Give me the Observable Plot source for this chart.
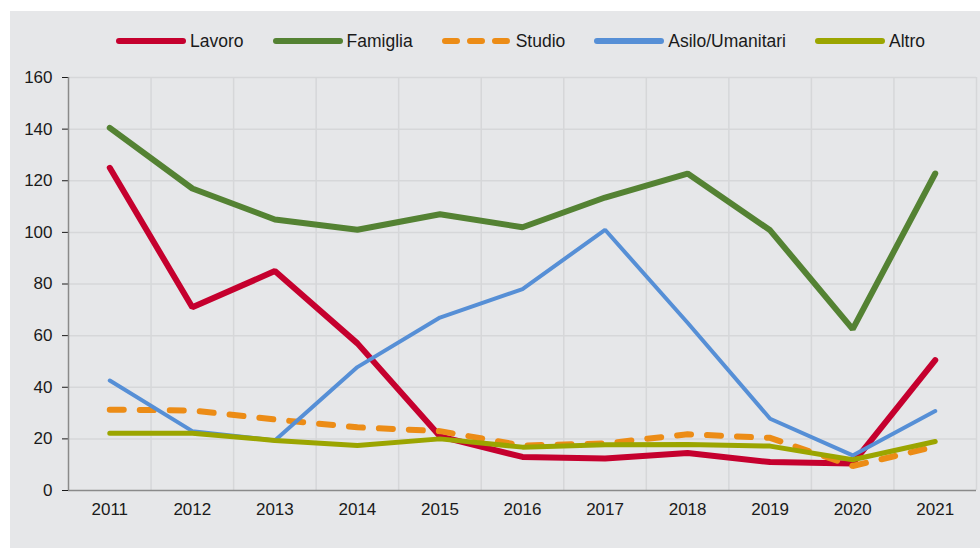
<!DOCTYPE html>
<html>
<head>
<meta charset="utf-8">
<script src="https://cdn.jsdelivr.net/npm/d3@7"></script>
<script src="https://cdn.jsdelivr.net/npm/@observablehq/plot@0.6"></script>
<style>
  html, body { margin: 0; padding: 0; background: #ffffff; }
  body { width: 980px; height: 548px; overflow: hidden; position: relative; font-family: "Liberation Sans", Arial, sans-serif; }
  #panel { position: absolute; left: 10px; top: 11px; width: 970px; height: 537px; background: #e6e7e9; }
  #legend { height: 49px; box-sizing: border-box; padding-top: 11px; padding-left: 105px; display: flex; align-items: center; }
  .item { display: flex; align-items: center; height: 22px; margin-right: 28px; font-size: 17.5px; color: #1a1a1a; }
  .item svg { margin-right: 3px; }
  #chart svg { display: block; }
</style>
</head>
<body>
<div id="panel">
  <div id="legend"></div>
  <div id="chart"></div>
</div>
<script>
const years = [2011, 2012, 2013, 2014, 2015, 2016, 2017, 2018, 2019, 2020, 2021];
const seriesNames = ["Lavoro", "Famiglia", "Studio", "Asilo/Umanitari", "Altro"];
const lavoro   = [125, 71, 85, 57, 21, 13, 12.4, 14.5, 11, 10.5, 50.5];
const famiglia = [140.5, 117, 105, 101, 107, 102, 113.5, 122.8, 100.8, 62.5, 122.8];
const studio   = [31.3, 31, 27.5, 24.5, 23, 17.4, 18.2, 21.8, 20.4, 9.5, 17];
const asilo    = [42.6, 23, 19.4, 47.8, 67, 78, 101, 65, 27.8, 13.6, 30.8];
const altro    = [22.2, 22.2, 19.4, 17.4, 20, 16.8, 17.7, 17.8, 17.2, 11.9, 19];
const yTicks = [0, 20, 40, 60, 80, 100, 120, 140, 160];

const colors = ["#c5002e", "#548233", "#ec8c16", "#568fd6", "#9ba500"];
const widths = [6, 6, 6, 4, 5];
const dashes = [null, null, "14,16", null, null];
const values = [lavoro, famiglia, studio, asilo, altro];

// legend
const legend = document.getElementById("legend");
seriesNames.forEach((name, i) => {
  const item = document.createElement("div");
  item.className = "item";
  const dash = i === 2 ? ' stroke-dasharray="12,13"' : "";
  item.innerHTML = `<svg width="72" height="10"><line x1="4" y1="5" x2="${i === 2 ? 72 : 68}" y2="5" stroke="${colors[i]}" stroke-width="6" stroke-linecap="round"${dash}/></svg><span>${name}</span>`;
  legend.appendChild(item);
});

const gridX = years.map(y => y + 0.5);
const gridColor = "#d6d7d9";
const axisColor = "#8a8a8a";

const lineMarks = seriesNames.map((name, i) =>
  Plot.line(years.map((y, j) => ({year: y, value: values[i][j]})), {
    x: "year", y: "value",
    stroke: colors[i], strokeWidth: widths[i],
    strokeDasharray: dashes[i] || undefined,
    strokeLinecap: "round", strokeLinejoin: "miter"
  })
);

const chart = Plot.plot({
  width: 970,
  height: 488,
  marginLeft: 58,
  marginRight: 4,
  marginTop: 17,
  marginBottom: 58,
  style: { background: "transparent", fontFamily: "'Liberation Sans', Arial, sans-serif", fontSize: "17px", color: "#1a1a1a" },
  x: { domain: [2010.5, 2021.5], ticks: years, tickFormat: d => String(d), tickSize: 0, tickPadding: 12, label: null },
  y: { domain: [0, 160], ticks: yTicks, tickSize: 6, tickPadding: 10, label: null },
  marks: [
    Plot.ruleY(yTicks.filter(v => v > 0), { stroke: gridColor, strokeWidth: 1.5 }),
    Plot.ruleX(gridX, { stroke: gridColor, strokeWidth: 1.5 }),
    Plot.ruleX([2010.5], { stroke: axisColor, strokeWidth: 1.5 }),
    Plot.ruleY([0], { stroke: axisColor, strokeWidth: 1.5 }),
    ...lineMarks
  ]
});
document.getElementById("chart").appendChild(chart);
</script>
</body>
</html>
